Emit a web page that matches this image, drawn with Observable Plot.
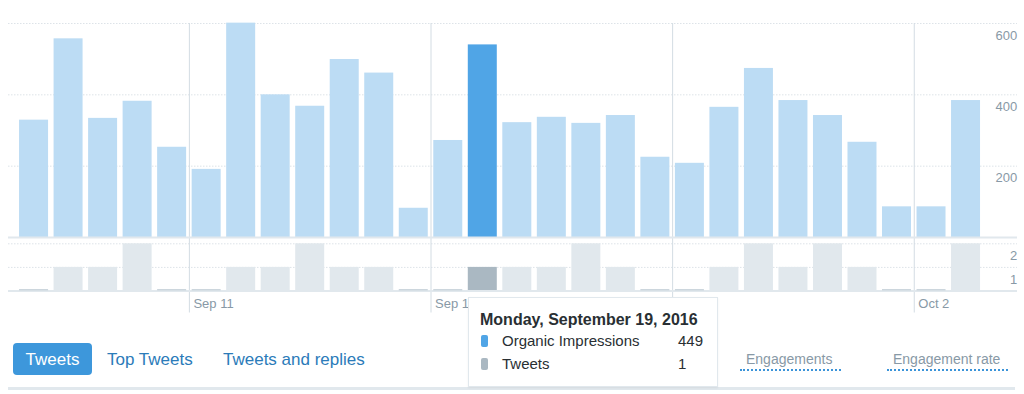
<!DOCTYPE html>
<html><head><meta charset="utf-8">
<script src="https://cdn.jsdelivr.net/npm/d3@7"></script>
<script src="https://cdn.jsdelivr.net/npm/@observablehq/plot@0.6"></script>
<style>
body{margin:0;background:#fff;font-family:"Liberation Sans",Arial,sans-serif;}
#wrap{position:relative;width:1024px;height:394px;overflow:hidden;background:#fff;}
#topChart,#bottomChart{position:absolute;left:0;}
#topChart{top:0}
#bottomChart{top:240px}
.tab{position:absolute;top:343px;height:32px;line-height:33px;font-size:17px;color:#2b7bb9;white-space:nowrap;}
.tab.active{left:13px;width:79px;background:#3d97db;color:#fff;border-radius:4px;text-align:center;}
.metric{position:absolute;top:349px;height:22px;line-height:21px;font-size:14px;color:#8899a6;border-bottom:2px dotted #3b94d9;white-space:nowrap;}
#rule{position:absolute;left:8px;top:387px;width:1007px;height:3px;background:#e1e8ed;}
#tip{position:absolute;left:468px;top:297px;width:248px;height:88px;background:#fff;border:1px solid #e1e8ed;box-shadow:0 1px 2px rgba(0,0,0,0.06);z-index:5;color:#292f33;}
#tip .t{position:absolute;left:11px;top:12px;font-size:16px;font-weight:bold;line-height:20px;white-space:nowrap;}
#tip .sw{position:absolute;left:12px;width:7px;height:12px;border-radius:2px;}
#tip .lb{position:absolute;left:33px;font-size:15px;line-height:18px;white-space:nowrap;}
#tip .vl{position:absolute;left:209px;font-size:15px;line-height:18px;}
</style></head>
<body>
<div id="wrap">
  <div id="topChart"></div>
  <div id="bottomChart"></div>
  <div class="tab active">Tweets</div>
  <div class="tab" style="left:107px">Top Tweets</div>
  <div class="tab" style="left:223px">Tweets and replies</div>
  <div class="metric" style="left:740px;width:101px;padding-left:6px;box-sizing:border-box;">Engagements</div>
  <div class="metric" style="left:887px;width:121px;padding-left:6px;box-sizing:border-box;">Engagement rate</div>
  <div id="rule"></div>
  <div id="tip">
    <div class="t">Monday, September 19, 2016</div>
    <div class="sw" style="top:37px;background:#50a5e6"></div>
    <div class="lb" style="top:34px">Organic Impressions</div>
    <div class="vl" style="top:34px">449</div>
    <div class="sw" style="top:60px;background:#aab8c2"></div>
    <div class="lb" style="top:57px">Tweets</div>
    <div class="vl" style="top:57px">1</div>
  </div>
</div>
<script>
const days = ["2016-09-06","2016-09-07","2016-09-08","2016-09-09","2016-09-10","2016-09-11","2016-09-12",
  "2016-09-13","2016-09-14","2016-09-15","2016-09-16","2016-09-17","2016-09-18","2016-09-19",
  "2016-09-20","2016-09-21","2016-09-22","2016-09-23","2016-09-24","2016-09-25","2016-09-26",
  "2016-09-27","2016-09-28","2016-09-29","2016-09-30","2016-10-01","2016-10-02","2016-10-03"];
const impressions = [329,557,334,382,253,191,601,400,368,499,461,82,272,540,322,337,320,342,225,208,365,474,384,342,267,86,86,384];
const tweets = [0,1,1,2,0,0,1,1,2,1,1,0,0,1,1,1,2,1,0,0,1,2,1,2,1,0,0,2];
const highlightDay = "2016-09-19";
const weekStarts = ["2016-09-11","2016-09-18","2016-09-25","2016-10-02"];
const weekLabels = ["Sep 11","Sep 18","Sep 25","Oct 2"];
const impTicks = [200,400,600];
const tweetTicks = [1,2];
const xDomain = ["2016-09-06","2016-10-04"];

const rows = days.map((d,i)=>({date:new Date(d), next:d3.utcDay.offset(new Date(d),1), imp:impressions[i], tw:tweets[i], hl:d===highlightDay}));
const xScale = {type:"utc", domain:xDomain.map(d=>new Date(d)), axis:null};
const font = '"Liberation Sans", Arial, sans-serif';
const W = 1024, ML = 16.3, MR = 41.2;
const grid = "#dde3e8", axisCol = "#e1e8ed", weekCol = "#d3dce3", labCol = "#8899a6";

const chartTop = Plot.plot({
  width:W, height:240, marginTop:23, marginBottom:3, marginLeft:ML, marginRight:MR,
  x:xScale, y:{domain:[0,600], axis:null},
  style:{fontFamily:font, overflow:"visible", background:"transparent"},
  marks:[
    Plot.ruleY(impTicks, {y:d=>d, stroke:grid, strokeDasharray:"1.5,1.5", insetLeft:-8.3, insetRight:-34.2}),
    Plot.ruleX(weekStarts, {x:d=>new Date(d), stroke:weekCol, strokeWidth:1, insetBottom:-3}),
    Plot.rectY(rows, {x1:"date", x2:"next", y:"imp", fill:d=>d.hl?"#50a5e6":"#bcdcf4", insetLeft:2.76, insetRight:2.76}),
    Plot.ruleY([0], {stroke:axisCol, strokeWidth:2, insetLeft:-8.3, insetRight:-34.2}),
    Plot.text(impTicks, {y:d=>d, text:d=>String(d), frameAnchor:"right", textAnchor:"end", dx:34, dy:12, lineAnchor:"middle", fill:labCol, fontSize:13})
  ]
});
document.getElementById("topChart").appendChild(chartTop);

const chartBottom = Plot.plot({
  width:W, height:80, marginTop:3.3, marginBottom:29.5, marginLeft:ML, marginRight:MR,
  x:xScale, y:{domain:[0,2], axis:null},
  style:{fontFamily:font, overflow:"visible", background:"transparent"},
  marks:[
    Plot.ruleY(tweetTicks, {y:d=>d, stroke:grid, strokeDasharray:"1.5,1.5", insetLeft:-8.3, insetRight:-34.2}),
    Plot.ruleX(weekStarts, {x:d=>new Date(d), stroke:weekCol, strokeWidth:1, insetTop:-3.3, insetBottom:-22}),
    Plot.rectY(rows.filter(d=>d.tw>0), {x1:"date", x2:"next", y:"tw", fill:d=>d.hl?"#aab8c2":"#e1e8ed", insetLeft:2.76, insetRight:2.76}),
    Plot.ruleY([0], {stroke:axisCol, strokeWidth:2, insetLeft:-8.3, insetRight:-34.2}),
    Plot.rectY(rows.filter(d=>d.tw===0), {x1:"date", x2:"next", y:"tw", fill:"#ccd6dd", insetLeft:2.76, insetRight:2.76, insetTop:-1.5}),
    Plot.text(tweetTicks, {y:d=>d, text:d=>String(d), frameAnchor:"right", textAnchor:"end", dx:34, dy:12, lineAnchor:"middle", fill:labCol, fontSize:13}),
    Plot.text(weekStarts, {x:d=>new Date(d), text:(d,i)=>weekLabels[i], frameAnchor:"bottom", textAnchor:"start", dx:4, dy:12.5, lineAnchor:"middle", fill:labCol, fontSize:13})
  ]
});
document.getElementById("bottomChart").appendChild(chartBottom);
</script>
</body></html>
